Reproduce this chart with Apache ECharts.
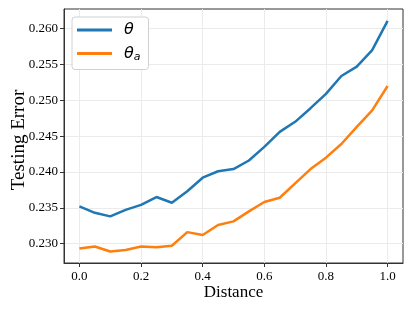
<!DOCTYPE html>
<html><head><meta charset="utf-8">
<script src="https://cdn.jsdelivr.net/npm/echarts@6/dist/echarts.min.js"></script>
<style>html,body{margin:0;padding:0;background:#fff}#c{width:413px;height:310px}</style>
</head><body><div id="c"></div>
<script>
const distance = [0.0,0.05,0.1,0.15,0.2,0.25,0.3,0.35,0.4,0.45,0.5,0.55,0.6,0.65,0.7,0.75,0.8,0.85,0.9,0.95,1.0];
const theta = [0.2352,0.2343,0.2338,0.2347,0.2354,0.2365,0.2357,0.2373,0.2392,0.2401,0.2404,0.2416,0.2435,0.2456,0.2470,0.2489,0.2509,0.2534,0.2547,0.2570,0.2611];
const thetaA = [0.2293,0.2296,0.2289,0.2291,0.2296,0.2295,0.2297,0.2316,0.2312,0.2326,0.2331,0.2345,0.2358,0.2364,0.2384,0.2404,0.2420,0.2439,0.2463,0.2486,0.2520];
const xTicks = [0.0,0.2,0.4,0.6,0.8,1.0];
const yTicks = [0.230,0.235,0.240,0.245,0.250,0.255,0.260];
const seriesNames = ['θ','θa'];

const chart = echarts.init(document.getElementById('c'));
const serif = '"Liberation Serif","Times New Roman",serif';
chart.setOption({
  animation:false,
  grid:{left:64,right:10,top:9,bottom:47,show:true,borderColor:'#333',borderWidth:1,containLabel:false,outerBoundsMode:'none'},
  xAxis:{type:'value',min:-0.05,max:1.05,
    name:'Distance',nameLocation:'middle',nameGap:21,nameMoveOverlap:false,
    nameTextStyle:{fontFamily:serif,fontSize:17,color:'#000'},
    axisLine:{show:true,onZero:false,lineStyle:{color:'#333',width:1}},
    axisTick:{show:true,length:4,lineStyle:{color:'#333'},customValues:xTicks},
    axisLabel:{customValues:xTicks,fontFamily:serif,fontSize:13,color:'#000',margin:7,formatter:v=>v.toFixed(1)},
    splitLine:{show:true,lineStyle:{color:'#ebebeb',width:1}}},
  yAxis:{type:'value',min:0.22729,max:0.26275,
    name:'Testing Error',nameLocation:'middle',nameGap:35.5,nameMoveOverlap:false,
    nameTextStyle:{fontFamily:serif,fontSize:19,color:'#000',padding:[0,8,0,0]},
    axisLine:{show:true,onZero:false,lineStyle:{color:'#333',width:1}},
    axisTick:{show:true,length:4,lineStyle:{color:'#333'},customValues:yTicks},
    axisLabel:{customValues:yTicks,fontFamily:serif,fontSize:13,color:'#000',margin:6,formatter:v=>v.toFixed(3)},
    splitLine:{show:true,lineStyle:{color:'#ebebeb',width:1}}},
  legend:{show:true,orient:'vertical',left:72,top:17,
    backgroundColor:'#fff',borderColor:'#d0d0d0',borderWidth:1,borderRadius:3,
    padding:[3,8,6,5],itemGap:3.5,itemWidth:35,itemHeight:3,icon:'rect',
    data:seriesNames,
    formatter:n=> n==='θ' ? '{t|θ}' : '{t|θ}{s|a}',
    textStyle:{padding:[0,0,0,7],rich:{
      t:{fontFamily:'"DejaVu Sans"',fontStyle:'italic',fontSize:16,color:'#000',height:20,lineHeight:20},
      s:{fontFamily:'"DejaVu Sans"',fontStyle:'italic',fontSize:11,color:'#000',padding:[8,0,0,0]}}}},
  series:[
    {name:seriesNames[0],type:'line',showSymbol:false,data:distance.map((d,i)=>[d,theta[i]]),lineStyle:{color:'#1f77b4',width:2.5},itemStyle:{color:'#1f77b4'}},
    {name:seriesNames[1],type:'line',showSymbol:false,data:distance.map((d,i)=>[d,thetaA[i]]),lineStyle:{color:'#ff7f0e',width:2.5},itemStyle:{color:'#ff7f0e'}}
  ]
});
</script></body></html>
